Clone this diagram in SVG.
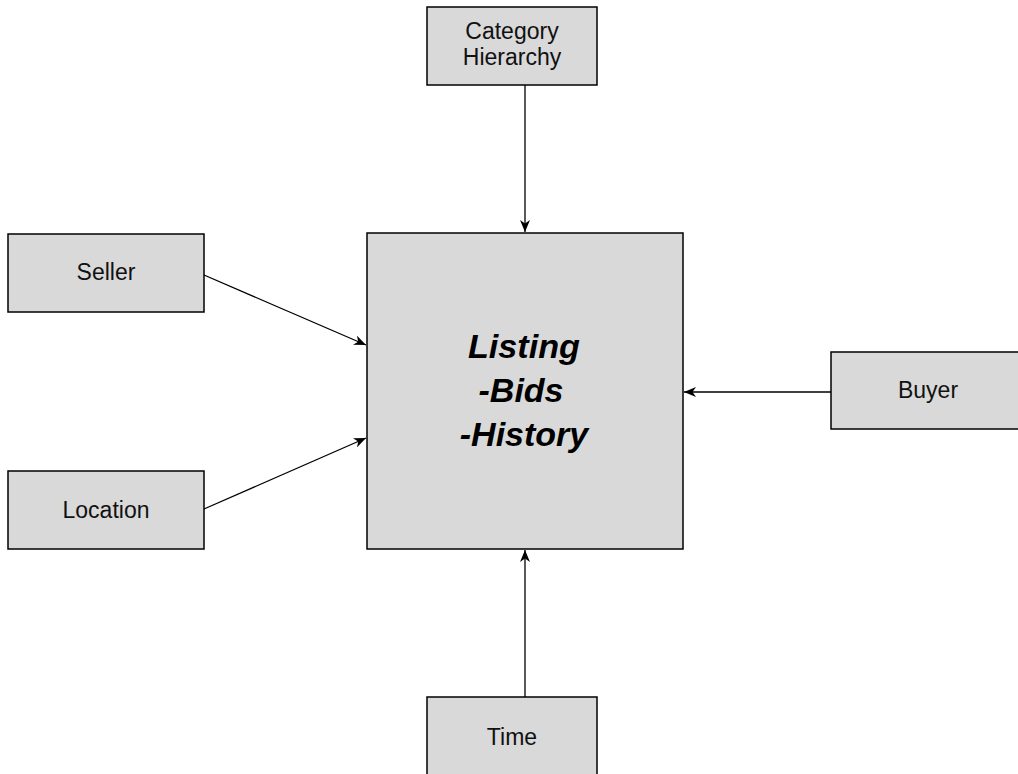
<svg xmlns="http://www.w3.org/2000/svg" width="1018" height="774" viewBox="0 0 1018 774">
<style>
.box{fill:#d9d9d9;stroke:#000;stroke-width:1.5}
.lbl{font-family:"Liberation Sans",Arial,sans-serif;font-size:23px;fill:#111;text-anchor:middle}
.big{font-family:"Liberation Sans",Arial,sans-serif;font-size:34px;font-weight:bold;font-style:italic;fill:#000;text-anchor:middle}
.con{stroke:#000;stroke-width:1.3;fill:none;marker-end:url(#arr)}
</style>
<defs>
<marker id="arr" markerUnits="userSpaceOnUse" markerWidth="13" markerHeight="10" refX="12" refY="5" orient="auto">
<path d="M0,0 L12,5 L0,10 L3.5,5 Z" fill="#000"/>
</marker>
</defs>
<rect width="1018" height="774" fill="#fff"/>
<g id="connectors">
<line class="con" x1="525" y1="85" x2="525" y2="232"/>
<line class="con" x1="204" y1="275" x2="366" y2="345"/>
<line class="con" x1="204" y1="509" x2="366" y2="438"/>
<line class="con" x1="831" y1="392" x2="684" y2="392"/>
<line class="con" x1="525" y1="697" x2="525" y2="550"/>
</g>
<g id="main">
<rect class="box" x="367" y="233" width="316" height="316"/>
<text class="big" x="524" y="358" textLength="112" lengthAdjust="spacingAndGlyphs">Listing</text>
<text class="big" x="521" y="402">-Bids</text>
<text class="big" x="524" y="446">-History</text>
</g>
<g id="category">
<rect class="box" x="427" y="7" width="170" height="78"/>
<text class="lbl" x="512" y="39">Category</text>
<text class="lbl" x="512" y="65">Hierarchy</text>
</g>
<g id="seller">
<rect class="box" x="8" y="234" width="196" height="78"/>
<text class="lbl" x="106" y="280">Seller</text>
</g>
<g id="location">
<rect class="box" x="8" y="471" width="196" height="78"/>
<text class="lbl" x="106" y="518">Location</text>
</g>
<g id="buyer">
<rect class="box" x="831" y="352" width="196" height="77"/>
<text class="lbl" x="928" y="398">Buyer</text>
</g>
<g id="time">
<rect class="box" x="427" y="697" width="170" height="90"/>
<text class="lbl" x="512" y="745">Time</text>
</g>
</svg>
